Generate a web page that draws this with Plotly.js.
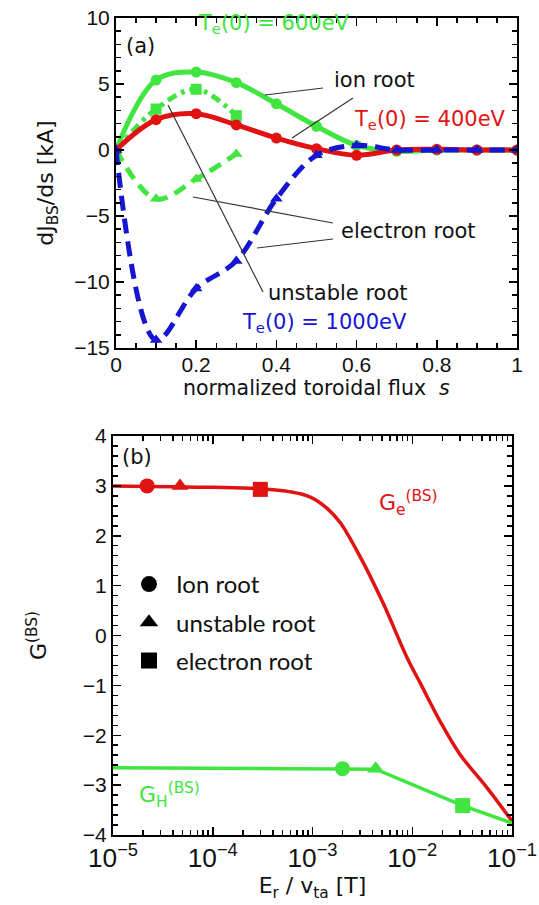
<!DOCTYPE html>
<html>
<head>
<meta charset="utf-8">
<script src="https://cdn.plot.ly/plotly-3.0.1.min.js"></script>
<style>html,body{margin:0;padding:0;background:#fff;}#chart{width:539px;height:905px;}</style>
</head>
<body>
<div id="chart"></div>
<script>
// ---------- panel (a) data ----------
const s = [0, 0.1, 0.2, 0.3, 0.4, 0.5, 0.6, 0.7, 0.8, 0.9, 1.0];
const ion600 = [0, 5.3, 5.9, 5.1, 3.5, 1.8, 0.35, -0.1, 0, 0, 0];
const ion400 = [0, 2.3, 2.75, 1.9, 0.9, 0.1, -0.4, 0, 0.05, 0, 0];
const sShort = [0, 0.1, 0.2, 0.3];
const elec600 = [0, 3.1, 4.6, 2.6];
const unst600 = [0, -3.7, -2.2, -0.3];
const root1000 = [0, -14.4, -10.5, -8.4, -3.7, -0.4, 0.35, 0, 0, 0, 0];

// ---------- panel (b) data ----------
const erX = [1e-5, 1e-4, 3e-4, 6e-4, 9.4e-4, 1.4e-3, 1.9e-3, 3e-3, 5.1e-3, 8.9e-3, 0.012, 0.019, 0.030, 0.056, 0.1];
const geY = [3.0, 2.97, 2.94, 2.88, 2.78, 2.55, 2.26, 1.58, 0.65, -0.45, -0.95, -1.72, -2.38, -3.05, -3.72];
const ghX = [1e-5, 1.4e-4, 2e-3, 4.3e-3, 0.032, 0.1];
const ghY = [-2.65, -2.67, -2.68, -2.68, -3.41, -3.76];
const geRootX = [2.2e-5, 4.7e-5, 3e-4];
const geRootY = [3.0, 3.0, 2.93];
const ghRootX = [2e-3, 4.3e-3, 0.032];
const ghRootY = [-2.67, -2.67, -3.41];
const rootSymbols = ['circle', 'triangle-up', 'square'];
const rootNames = ['Ion root', 'unstable root', 'electron root'];

const GREEN = '#40e540', RED = '#e01212', BLUE = '#1515d2';
const W = 539, H = 905;
const px = v => v / W, py = v => 1 - v / H;

const traces = [
  {x: sShort, y: unst600, mode: 'lines+markers', line: {color: GREEN, width: 5, dash: '13px,8px', shape: 'spline'},
   marker: {symbol: 'triangle-up', size: 11, color: GREEN}, xaxis: 'x', yaxis: 'y', showlegend: false},
  {x: sShort, y: elec600, mode: 'lines+markers', line: {color: GREEN, width: 5, dash: '10px,5px,4px,5px', shape: 'spline'},
   marker: {symbol: 'square', size: 11, color: GREEN}, xaxis: 'x', yaxis: 'y', showlegend: false},
  {x: s, y: ion600, mode: 'lines+markers', line: {color: GREEN, width: 5, shape: 'spline'},
   marker: {symbol: 'circle', size: 11, color: GREEN}, xaxis: 'x', yaxis: 'y', showlegend: false},
  {x: s, y: ion400, mode: 'lines+markers', line: {color: RED, width: 5, shape: 'spline'},
   marker: {symbol: 'circle', size: 11, color: RED}, xaxis: 'x', yaxis: 'y', showlegend: false},
  {x: s, y: root1000, mode: 'lines+markers', line: {color: BLUE, width: 5, dash: '15px,8px', shape: 'spline'},
   marker: {symbol: 'triangle-up', size: 11, color: BLUE}, xaxis: 'x', yaxis: 'y', showlegend: false},
  // panel b
  {x: erX, y: geY, mode: 'lines', line: {color: RED, width: 3.5, shape: 'spline'}, xaxis: 'x2', yaxis: 'y2', showlegend: false},
  {x: ghX, y: ghY, mode: 'lines', line: {color: GREEN, width: 3.5}, xaxis: 'x2', yaxis: 'y2', showlegend: false},
  {x: geRootX, y: geRootY, mode: 'markers', marker: {symbol: rootSymbols, size: 15, color: RED}, xaxis: 'x2', yaxis: 'y2', showlegend: false},
  {x: ghRootX, y: ghRootY, mode: 'markers', marker: {symbol: rootSymbols, size: 15, color: GREEN}, xaxis: 'x2', yaxis: 'y2', showlegend: false}
];
rootSymbols.forEach((sym, i) => {
  traces.push({x: [null], y: [null], mode: 'markers', name: rootNames[i], legendgroup: 'g' + i,
    marker: {symbol: sym, size: 16, color: 'black'}, xaxis: 'x2', yaxis: 'y2', showlegend: true});
});

const tickFont = {family: 'Liberation Sans, Arial, sans-serif', size: 21, color: '#111'};
const textFont = (c, sz) => ({family: 'DejaVu Sans, sans-serif', size: sz || 21, color: c});
const axBase = {showline: true, linewidth: 2, linecolor: 'black', mirror: 'ticks', ticks: 'inside', ticklen: 8, tickwidth: 1.5,
  tickcolor: 'black', showgrid: false, zeroline: false, tickfont: tickFont};

const annotations = [
  {text: '(a)', x: px(124), y: py(46)},
  {text: 'T<sub>e</sub>(0) = 600eV', x: px(196), y: py(24), color: GREEN},
  {text: 'ion root', x: px(332), y: py(80)},
  {text: 'T<sub>e</sub>(0) = 400eV', x: px(352), y: py(120), color: RED},
  {text: 'electron root', x: px(339), y: py(231)},
  {text: 'unstable root', x: px(266), y: py(293)},
  {text: 'T<sub>e</sub>(0) = 1000eV', x: px(240), y: py(323), color: BLUE},
  {text: '(b)', x: px(120), y: py(457)},
  {text: 'G<sub>e</sub><sup>(BS)</sup>', x: px(377), y: py(503), color: RED, size: 22},
  {text: 'G<sub>H</sub><sup>(BS)</sup>', x: px(137), y: py(795), color: GREEN, size: 22},
  {text: 'normalized toroidal flux  <i>s</i>', x: px(316.5), y: py(388), anchor: 'center', size: 20.5}
].map(a => ({text: a.text, x: a.x, y: a.y, xref: 'paper', yref: 'paper', xanchor: a.anchor || 'left', yanchor: 'middle',
  showarrow: false, font: textFont(a.color || '#111', a.size)}));

const seg = (x0, y0, x1, y1) => ({type: 'line', xref: 'paper', yref: 'paper', x0: px(x0), y0: py(y0), x1: px(x1), y1: py(y1),
  line: {color: '#333', width: 1.2}});
const shapes = [
  seg(265, 95, 323, 88), seg(292, 138, 353, 98),
  seg(193, 197, 333, 223), seg(257, 248, 333, 239),
  seg(168, 105, 263, 292)
];

const layout = {
  width: W, height: H, margin: {l: 0, r: 0, t: 0, b: 0}, paper_bgcolor: 'white', plot_bgcolor: 'white',
  showlegend: true,
  legend: {x: px(122), y: py(562), xanchor: 'left', yanchor: 'top', bgcolor: 'rgba(0,0,0,0)', tracegroupgap: 4,
    itemwidth: 44, font: {family: 'Lato, sans-serif', size: 24, color: '#111'}},
  xaxis: Object.assign({}, axBase, {domain: [px(116), px(517)], anchor: 'y', range: [0, 1], dtick: 0.2, ticklabelstandoff: -3,
    minor: {dtick: 0.05, ticks: 'inside', ticklen: 5, tickcolor: 'black'}}),
  yaxis: Object.assign({}, axBase, {domain: [py(348), py(18)], anchor: 'x', range: [-15, 10], dtick: 5,
    minor: {dtick: 1, ticks: 'inside', ticklen: 5, tickcolor: 'black'},
    title: {text: 'dJ<sub>BS</sub>/ds [kA]', font: textFont('#111', 22), standoff: 14}}),
  xaxis2: Object.assign({}, axBase, {domain: [px(113), px(512)], anchor: 'y2', type: 'log', range: [-5, -1], dtick: 1,
    exponentformat: 'power', minor: {dtick: 'D1', ticks: 'inside', ticklen: 5, tickcolor: 'black'},
    title: {text: 'E<sub>r</sub> / v<sub>ta</sub> [T]', font: textFont('#111', 22), standoff: 2}}),
  yaxis2: Object.assign({}, axBase, {domain: [py(835), py(436)], anchor: 'x2', range: [-4, 4], dtick: 1,
    minor: {dtick: 0.2, ticks: 'inside', ticklen: 5, tickcolor: 'black'},
    title: {text: 'G<sup>(BS)</sup>', font: textFont('#111', 22), standoff: 30}}),
  annotations: annotations,
  shapes: shapes
};

Plotly.newPlot('chart', traces, layout, {displayModeBar: false, staticPlot: true});
</script>
</body>
</html>
